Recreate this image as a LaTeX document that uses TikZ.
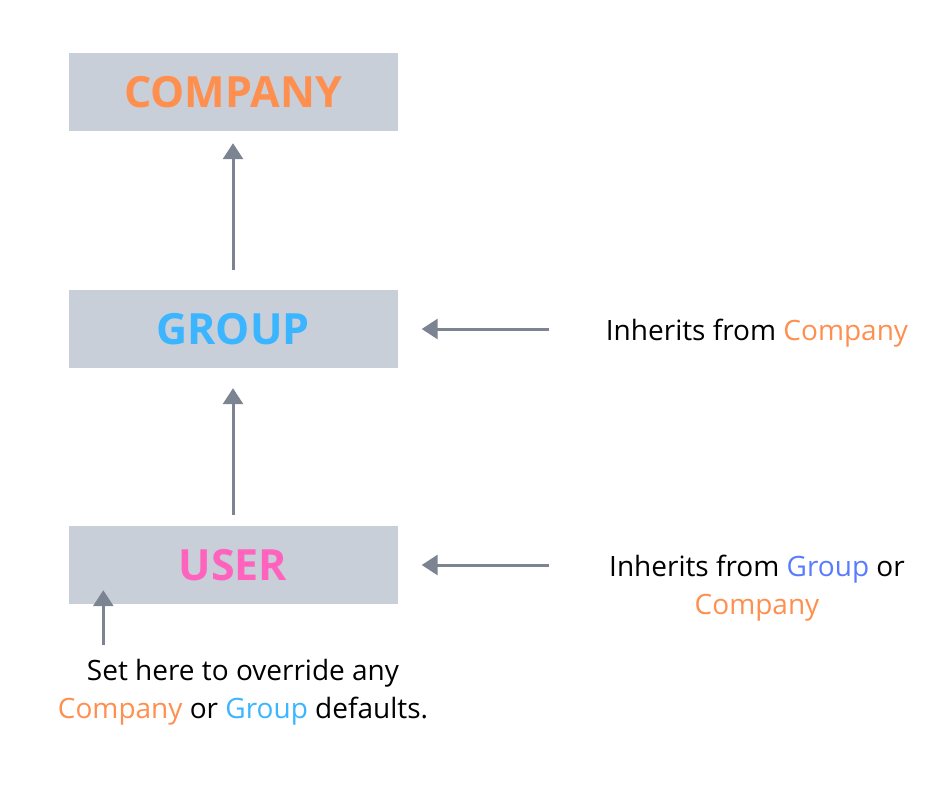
\documentclass[tikz,border=0pt]{standalone}
\usepackage{fontspec}
\setmainfont{Open Sans}
\usetikzlibrary{arrows.meta}
\definecolor{boxgray}{HTML}{C8CFD8}
\definecolor{arrgray}{HTML}{7D8491}
\definecolor{corange}{HTML}{FF8F4F}
\definecolor{gblue}{HTML}{3BB5FF}
\definecolor{gviolet}{HTML}{5A7BFF}
\definecolor{upink}{HTML}{FF63BE}
\begin{document}
\begin{tikzpicture}[x=1pt,y=-1pt,
	level/.style={fill=boxgray,minimum width=329pt,minimum height=78pt,inner sep=0pt,font=\fontsize{43}{43}\selectfont\bfseries},
	note/.style={inner sep=0pt,align=center,font=\fontsize{28}{38}\selectfont},
	inherit/.style={draw=arrgray,line width=3pt,-{Triangle[width=20pt,length=16pt]}}]
	\useasboundingbox (0,0) rectangle (940,788);
	\node[level,text=corange] (company) at (233,92) {COMPANY};
	\node[level,text=gblue] (group) at (233,329) {GROUP};
	\node[level,text=upink] (user) at (233,565) {USER};
	\node[note,anchor=base] (inh1) at (757,340) {Inherits from \textcolor{corange}{Company}};
	\node[note,anchor=base] (inh2) at (757,614) {Inherits from \textcolor{gviolet}{Group} or\\\textcolor{corange}{Company}};
	\node[note,anchor=base] (set) at (243,718) {Set here to override any\\\textcolor{corange}{Company} or \textcolor{gblue}{Group} defaults.};
	\coordinate (setp) at ([xshift=35pt]user.south west);
	\draw[inherit] ([yshift=20pt]group.north) -- ([yshift=-12pt]company.south);
	\draw[inherit] ([yshift=11pt]user.north) -- ([yshift=-20pt]group.south);
	\draw[inherit] ([xshift=151pt]group.east) -- ([xshift=24pt]group.east);
	\draw[inherit] ([xshift=151pt]user.east) -- ([xshift=24pt]user.east);
	\draw[inherit] ([yshift=-41pt]setp) -- ([yshift=14pt]setp);
\end{tikzpicture}
\end{document}
